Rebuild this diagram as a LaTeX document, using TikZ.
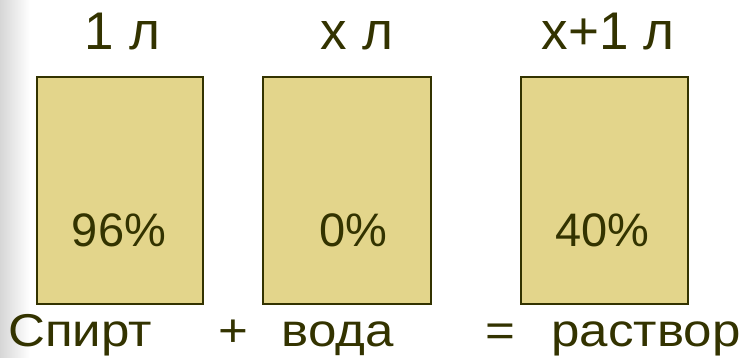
\documentclass[tikz,border=0pt]{standalone}
\usepackage{fontspec}
\setmainfont{Liberation Sans}
\definecolor{ink}{RGB}{51,51,0}
\definecolor{boxfill}{RGB}{227,213,139}
\newcommand{\wide}[1]{\scalebox{1.11}[1]{#1}}
\begin{document}
\begin{tikzpicture}[x=1pt,y=-1pt,
  jar/.style={draw=ink,line width=1.6pt,fill=boxfill,minimum height=227pt,inner sep=0pt},
  toplab/.style={anchor=base,inner sep=0pt,text=ink,font=\fontsize{53}{60}\selectfont},
  pct/.style={anchor=base,inner sep=0pt,text=ink,font=\fontsize{47}{54}\selectfont},
  botlab/.style={anchor=base,inner sep=0pt,text=ink,font=\fontsize{46}{52}\selectfont}]
\useasboundingbox (0,0) rectangle (745,358);
\shade[left color=black!16,right color=white] (0,0) rectangle (30,358);
% boxes
\node[jar,minimum width=166pt] (b1) at (120,190.5) {};
\node[jar,minimum width=168pt] (b2) at (347,190.5) {};
\node[jar,minimum width=167pt] (b3) at (604.5,190.5) {};
% top labels
\node[toplab] (t1) at (122.5,50) {1 л};
\node[toplab] (t2) at (357,50) {x л};
\node[toplab] (t3) at (608,50) {x+1 л};
% percentages
\node[pct] (p1) at (119,247) {96\%};
\node[pct] (p2) at (353,247) {0\%};
\node[pct] (p3) at (602.5,247) {40\%};
% bottom
\node[botlab] (w1) at (80,346) {\wide{Спирт}};
\node[botlab] (plus) at (233.5,346) {\wide{+}};
\node[botlab] (w2) at (338,346) {\wide{вода}};
\node[botlab] (eq) at (500,346) {\wide{=}};
\node[botlab] (w3) at (646,346) {\wide{раствор}};
\end{tikzpicture}
\end{document}
